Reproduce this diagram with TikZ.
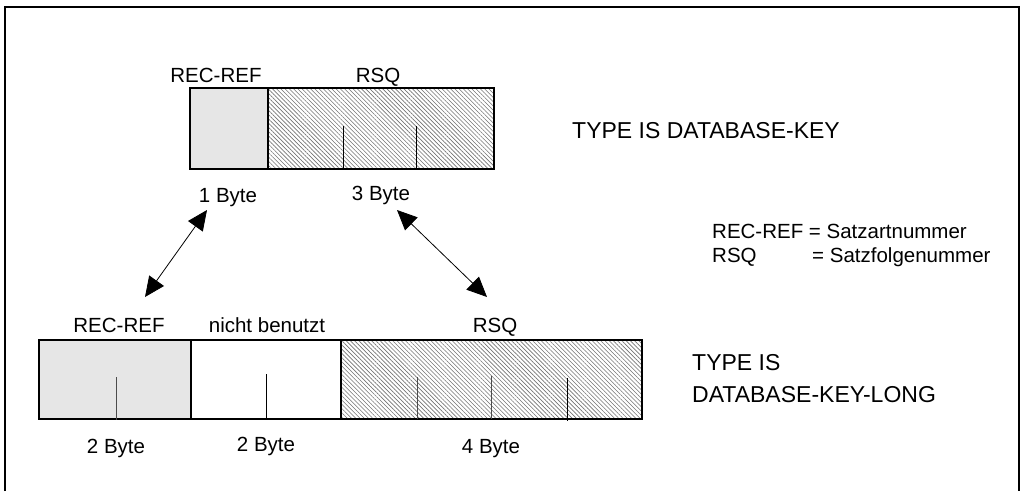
\documentclass[tikz,border=0pt]{standalone}
\usepackage{fontspec}
\setmainfont{Liberation Sans}
\usetikzlibrary{arrows.meta,patterns.meta}
\definecolor{fillgray}{HTML}{E6E6E6}
\tikzset{
  lbl/.style={font=\fontsize{20.5}{24}\selectfont, inner sep=0pt, anchor=base},
  lblw/.style={font=\fontsize{20.5}{24}\selectfont, inner sep=0pt, anchor=base west},
  big/.style={font=\fontsize{23}{32}\selectfont, inner sep=0pt, anchor=base west},
  frame/.style={line width=1.5pt},
  cell/.style={line width=1.6pt},
  graycell/.style={cell, fill=fillgray},
  hatchcell/.style={cell, pattern={Lines[angle=-45,distance=3pt,line width=0.6pt]}, pattern color=black!55},
  tick/.style={line width=0.9pt},
  dblarrow/.style={line width=0.8pt, {Triangle[length=20pt,width=18pt]}-{Triangle[length=20pt,width=18pt]}}
}
\begin{document}
\begin{tikzpicture}[x=1pt,y=-1pt]
\useasboundingbox (0,0) rectangle (1025,491);
% frame (open at bottom)
\draw[frame] (5,491) -- (5,7) -- (1019,7) -- (1019,491);

% top record
\draw[hatchcell] (268,88) rectangle (494,169);
\draw[graycell] (190,88) rectangle (268,169);
\draw[cell] (190,88) rectangle (494,169);
\draw[tick] (343,126) -- (343,169);
\draw[tick] (416,126) -- (416,169);

\node[lbl] (tref) at (216,82) {REC-REF};
\node[lbl] (trsq) at (378,82) {RSQ};
\node[lbl] (t1b) at (228,202) {1 Byte};
\node[lbl] (t3b) at (381,200) {3 Byte};
\node[big] (tkey) at (572,138) {TYPE IS DATABASE-KEY};

% legend
\node[lblw] (leg1) at (712,238) {REC-REF = Satzartnummer};
\node[lblw] (leg2a) at (712,262) {RSQ};
\node[lblw] (leg2b) at (812,262) {= Satzfolgenummer};

% bottom record
\draw[hatchcell] (341,340) rectangle (642,419);
\draw[graycell] (39,340) rectangle (191,419);
\draw[cell] (39,340) rectangle (642,419);
\draw[cell] (191,340) -- (191,419);
\draw[cell] (341,340) -- (341,419);
\draw[tick, black!70] (116,377) -- (116,420);
\draw[tick] (266,374) -- (266,419);
\draw[tick, black!70] (417,377) -- (417,419);
\draw[tick, black!70] (491,376) -- (491,419);
\draw[tick] (567,378) -- (567,421);

\node[lbl] (bref) at (119,332) {REC-REF};
\node[lbl] (bnb) at (267,332) {nicht benutzt};
\node[lbl] (brsq) at (495,332) {RSQ};
\node[lbl] (b2a) at (116,453) {2 Byte};
\node[lbl] (b2b) at (266,451) {2 Byte};
\node[lbl] (b4) at (491,453) {4 Byte};
\node[big] (bkey1) at (692,370) {TYPE IS};
\node[big] (bkey2) at (692,402) {DATABASE-KEY-LONG};

% arrows
\coordinate (a1) at (207,210);
\coordinate (a2) at (145,297);
\coordinate (a3) at (397,210);
\coordinate (a4) at (487,297);
\draw[dblarrow] (a1) -- (a2);
\draw[dblarrow] (a3) -- (a4);
\end{tikzpicture}
\end{document}
